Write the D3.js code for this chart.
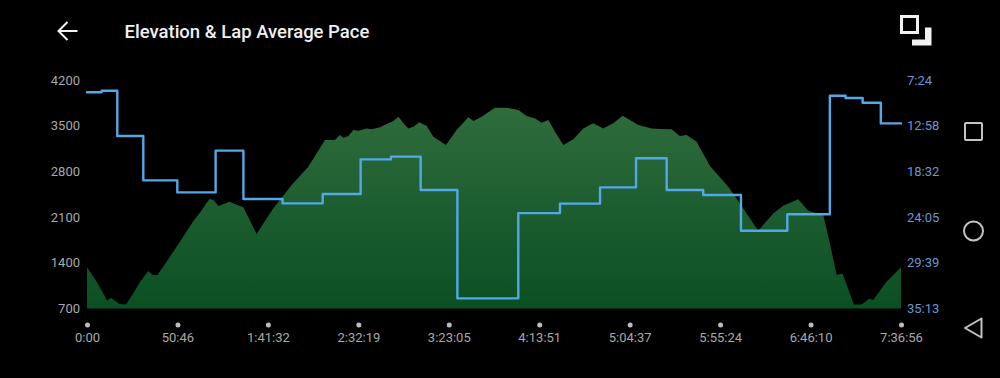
<!DOCTYPE html>
<html><head><meta charset="utf-8">
<script src="https://cdnjs.cloudflare.com/ajax/libs/d3/7.8.5/d3.min.js"></script>
<style>
html,body{margin:0;padding:0;background:#000;overflow:hidden}
svg{display:block}
text{font-family:Roboto,sans-serif}
.domain{display:none}
</style></head><body>
<svg id="c" width="1000" height="378"></svg>
<script>
const titleText = "Elevation & Lap Average Pace";
const elevationTicks = [700,1400,2100,2800,3500,4200];
const paceTickLabels = ["7:24","12:58","18:32","24:05","29:39","35:13"];
const timeTickLabels = ["0:00","50:46","1:41:32","2:32:19","3:23:05","4:13:51","5:04:37","5:55:24","6:46:10","7:36:56"];
// minutes since start
const elevTime = [0,5.4,11.4,13.5,18.2,21.9,26,29.8,34.4,36.9,39.5,44.7,52.2,59.7,63.4,68.7,70.9,73.9,79.9,87.8,95.2,104.6,114.9,124.2,133.6,139.2,140.1,142,143.9,146.7,149.5,152.3,157,159.8,164.5,169.1,172,174.8,177.6,180.4,183.2,186.5,190.7,194.4,201.5,207.5,214,216.9,221.5,229,235.6,242.1,246.8,251.5,255.2,259,262.7,267.4,273,278.6,284.2,289.8,295.4,300.7,304.8,309.5,317,321.6,328.1,332.8,336.6,342.2,349.7,360,366.5,376.8,385.2,390.8,399.2,404.9,413.3,417,420.8,424.1,430.5,434.8,439.1,441.3,448.8,456.93];
const elevation = [1330,1110,820,865,768,763,932,1110,1274,1213,1213,1417,1723,2040,2167,2377,2361,2270,2336,2249,1841,2234,2591,2872,3281,3281,3306,3357,3316,3342,3434,3424,3459,3444,3475,3536,3572,3638,3536,3459,3485,3551,3495,3332,3204,3434,3628,3572,3638,3776,3776,3740,3648,3612,3546,3587,3408,3204,3291,3459,3536,3459,3536,3653,3587,3510,3459,3449,3444,3342,3357,3255,2882,2566,2310,1892,2157,2275,2372,2198,2132,1698,1213,1238,763,763,850,830,1110,1330];
// lap start (minutes) and lap average pace (seconds per unit)
const lapStart = [0,8.2,17,31.6,50.7,72.2,87.8,109.8,132.3,153.6,170.6,187.3,207.9,242.1,265.5,288,308.2,325.4,345.9,367.1,393.1,417,425.8,435.4,445.6,456.93];
const lapPace = [534,522,853,1177,1265,960,1313,1345,1277,1024,1004,1248,2039,1416,1347,1228,1016,1248,1284,1545,1425,559,576,610,761,761];

const toMin = s => { const p = s.split(":").map(Number); return p.length===3 ? p[0]*60+p[1]+p[2]/60 : p[0]+p[1]/60; };
const toSec = s => { const p = s.split(":").map(Number); return p[0]*60+p[1]; };

const svg = d3.select("#c");
const x = d3.scaleLinear().domain([0,toMin("7:36:56")]).range([87,901]);
const yE = d3.scaleLinear().domain([700,4200]).range([308.5,80]);
const yP = d3.scaleLinear().domain([toSec("7:24"),toSec("35:13")]).range([80,308.5]);

const defs = svg.append("defs");
const g = defs.append("linearGradient").attr("id","ag").attr("gradientUnits","userSpaceOnUse")
  .attr("x1",0).attr("x2",0).attr("y1",yE(3776)).attr("y2",yE(700));
g.append("stop").attr("offset",0).attr("stop-color","#2f6c3c");
g.append("stop").attr("offset",1).attr("stop-color","#0a4f23");

const pts = elevTime.map((t,i)=>[t,elevation[i]]);
svg.append("path").datum(pts).attr("fill","url(#ag)")
  .attr("d",d3.area().x(d=>x(d[0])).y0(yE(700)).y1(d=>yE(d[1])));

const laps = lapStart.map((t,i)=>[t,lapPace[i]]);
svg.append("path").datum(laps).attr("fill","none").attr("stroke","#52a8e8").attr("stroke-width",2.4)
  .attr("stroke-linejoin","round").attr("stroke-linecap","round")
  .attr("d",d3.line().curve(d3.curveStepAfter).x(d=>x(d[0])).y(d=>yP(d[1])));

const axL = svg.append("g").attr("transform","translate(87,0)")
  .call(d3.axisLeft(yE).tickValues(elevationTicks).tickSize(0).tickPadding(7).tickFormat(d3.format("d")));
axL.selectAll("text").attr("fill","#a8a8a8").attr("font-size",13).attr("font-family","Roboto,sans-serif");

const axR = svg.append("g").attr("transform","translate(901,0)")
  .call(d3.axisRight(yP).tickValues(paceTickLabels.map(toSec)).tickSize(0).tickPadding(6)
    .tickFormat((d,i)=>paceTickLabels[i]));
axR.selectAll("text").attr("fill","#6d96d8").attr("font-size",13).attr("font-family","Roboto,sans-serif");

const axB = svg.append("g").attr("transform","translate(0,325)")
  .call(d3.axisBottom(x).tickValues(timeTickLabels.map(toMin)).tickSize(0).tickPadding(8)
    .tickFormat((d,i)=>timeTickLabels[i]));
axB.selectAll("text").attr("fill","#a8a8a8").attr("font-size",13).attr("font-family","Roboto,sans-serif");
axB.selectAll(".tick").append("circle").attr("r",2.5).attr("fill","#bdbdbd");

// header
svg.append("text").attr("x",124.5).attr("y",38).attr("fill","#f0f0f0").attr("font-size",18.5)
  .attr("font-weight",500).text(titleText);
svg.append("path").attr("d","M77.5 31H59M67.5 22L58.5 31L67.5 40").attr("fill","none")
  .attr("stroke","#f2f2f2").attr("stroke-width",2);
svg.append("rect").attr("x",901.5).attr("y",16.5).attr("width",16).attr("height",16)
  .attr("fill","none").attr("stroke","#f2f2f2").attr("stroke-width",3);
svg.append("path").attr("d","M912 45.5V39.5H925V27.5H931.5V45.5Z").attr("fill","#f2f2f2");

// nav bar
const nav = svg.append("g").attr("fill","none").attr("stroke","#c4c4c4").attr("stroke-width",2);
nav.append("rect").attr("x",965).attr("y",123).attr("width",17).attr("height",17).attr("rx",1);
nav.append("circle").attr("cx",973.5).attr("cy",231).attr("r",9.5);
nav.append("path").attr("d","M981.5 318.5V337.5L965 328Z").attr("stroke-linejoin","round");
</script></body></html>
